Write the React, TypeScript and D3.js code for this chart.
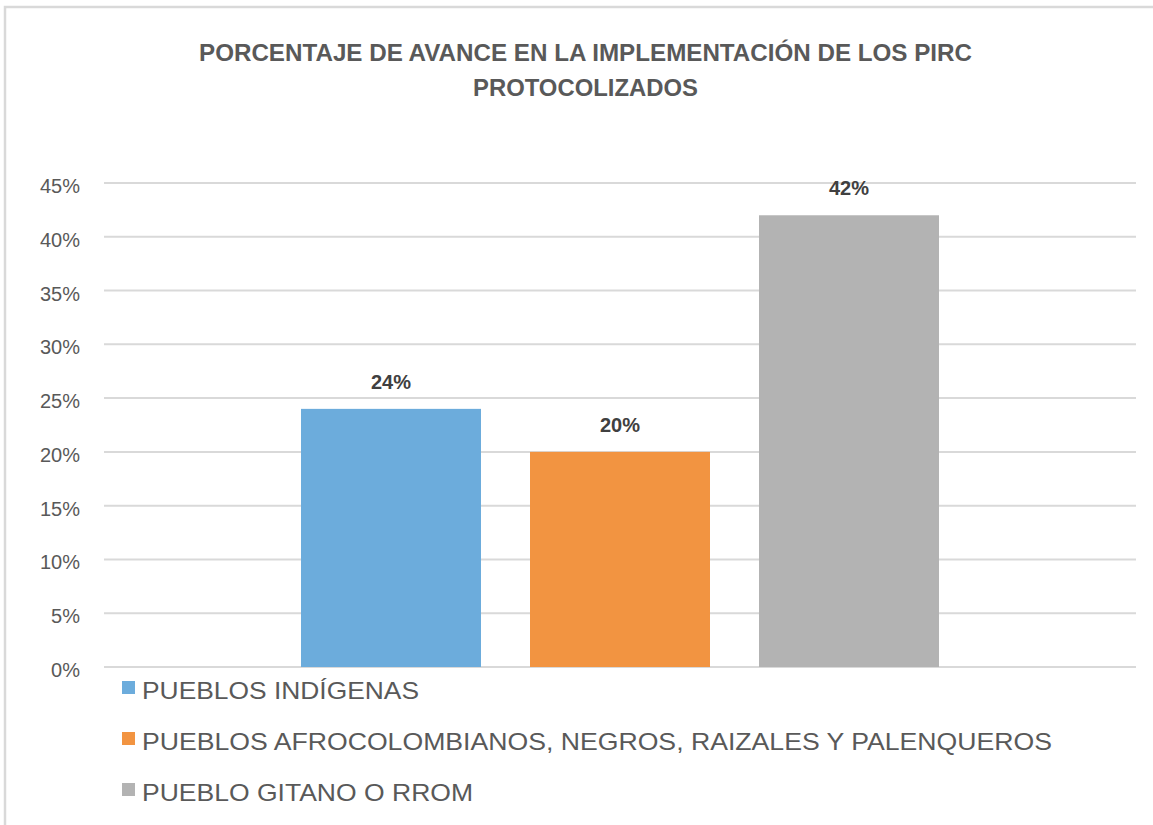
import React, { useEffect, useRef } from 'react';
import * as d3 from 'd3';

const TITLE_LINES = ['PORCENTAJE DE AVANCE EN LA IMPLEMENTACIÓN DE LOS PIRC', 'PROTOCOLIZADOS'];
const SERIES = [
  'PUEBLOS INDÍGENAS',
  'PUEBLOS AFROCOLOMBIANOS, NEGROS, RAIZALES Y PALENQUEROS',
  'PUEBLO GITANO O RROM',
];
const VALUES = [0.24, 0.2, 0.42];
const COLORS = ['#6cacdc', '#f29441', '#b3b3b3'];
const Y_TICKS = [0, 0.05, 0.1, 0.15, 0.2, 0.25, 0.3, 0.35, 0.4, 0.45];

const App = () => {
  const ref = useRef<SVGSVGElement>(null);

  useEffect(() => {
    const svg = d3.select(ref.current);
    const width = 1153;
    const height = 825;
    const plot = { left: 104, right: 1136, top: 183, bottom: 667 };

    svg.attr('width', width).attr('height', height);

    svg.append('rect')
      .attr('width', width)
      .attr('height', height)
      .attr('fill', '#fff');

    // chart frame
    svg.append('rect')
      .attr('x', 5)
      .attr('y', 7)
      .attr('width', width + 10)
      .attr('height', height + 10)
      .attr('fill', 'none')
      .attr('stroke', '#d9d9d9')
      .attr('stroke-width', 2.5);

    const title = svg.append('g').attr('fill', '#595959')
      .attr('font-family', 'Liberation Sans, Arial, sans-serif')
      .attr('font-weight', 'bold')
      .attr('font-size', 24)
      .attr('text-anchor', 'middle');
    const titleWidths = [773, 225];
    TITLE_LINES.forEach((t, i) => {
      title.append('text')
        .attr('x', 585.5)
        .attr('y', 61 + i * 35)
        .attr('textLength', titleWidths[i])
        .attr('lengthAdjust', 'spacingAndGlyphs')
        .text(t);
    });

    const y = d3.scaleLinear().domain([0, 0.45]).range([plot.bottom, plot.top]);

    // group of bars centred in the plot
    const x0 = d3.scaleBand<string>()
      .domain(['all'])
      .range([plot.left, plot.right])
      .paddingOuter(0.3088);
    const x1 = d3.scaleBand<string>()
      .domain(SERIES)
      .range([0, x0.bandwidth()])
      .paddingInner(0.214)
      .paddingOuter(0);

    const grid = svg.append('g');
    grid.selectAll('line')
      .data(Y_TICKS)
      .join('line')
      .attr('x1', plot.left)
      .attr('x2', plot.right)
      .attr('y1', (d) => y(d))
      .attr('y2', (d) => y(d))
      .attr('stroke', '#d9d9d9')
      .attr('stroke-width', 2);

    svg.append('g')
      .attr('font-family', 'Liberation Sans, Arial, sans-serif')
      .attr('font-size', 20)
      .attr('fill', '#595959')
      .attr('text-anchor', 'end')
      .selectAll('text')
      .data(Y_TICKS)
      .join('text')
      .attr('x', 80)
      .attr('y', (d) => y(d) + 10)
      .text((d) => d3.format('.0%')(d));

    const gx = x0('all') as number;
    const bars = svg.append('g');
    bars.selectAll('rect')
      .data(VALUES)
      .join('rect')
      .attr('x', (d, i) => gx + (x1(SERIES[i]) as number))
      .attr('y', (d) => y(d))
      .attr('width', x1.bandwidth())
      .attr('height', (d) => y(0) - y(d))
      .attr('fill', (d, i) => COLORS[i]);

    bars.selectAll('text')
      .data(VALUES)
      .join('text')
      .attr('x', (d, i) => gx + (x1(SERIES[i]) as number) + x1.bandwidth() / 2)
      .attr('y', (d) => y(d) - 20)
      .attr('text-anchor', 'middle')
      .attr('font-family', 'Liberation Sans, Arial, sans-serif')
      .attr('font-weight', 'bold')
      .attr('font-size', 21)
      .attr('fill', '#404040')
      .attr('textLength', 40)
      .attr('lengthAdjust', 'spacingAndGlyphs')
      .text((d) => d3.format('.0%')(d));

    const legend = svg.append('g')
      .attr('font-family', 'Liberation Sans, Arial, sans-serif')
      .attr('font-size', 24)
      .attr('fill', '#595959');
    const legendWidths = [277, 910, 331];
    SERIES.forEach((s, i) => {
      const row = legend.append('g').attr('transform', `translate(122,${699 + i * 51})`);
      row.append('rect')
        .attr('x', 0)
        .attr('y', -18)
        .attr('width', 13)
        .attr('height', 13)
        .attr('fill', COLORS[i]);
      row.append('text')
        .attr('x', 20)
        .attr('y', 0)
        .attr('textLength', legendWidths[i])
        .attr('lengthAdjust', 'spacingAndGlyphs')
        .text(s);
    });

    return () => {
      svg.selectAll('*').remove();
    };
  }, []);

  return (
    <>
      <style>{'body{margin:0}'}</style>
      <svg ref={ref} style={{ display: 'block' }}></svg>
    </>
  );
};

export default App;
